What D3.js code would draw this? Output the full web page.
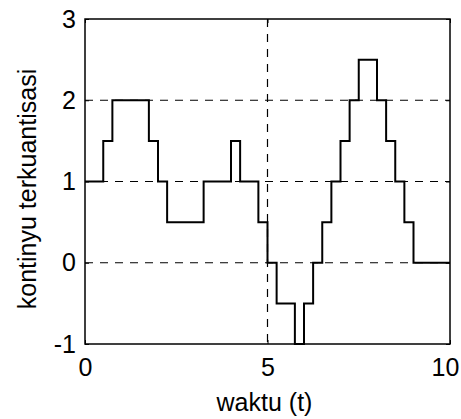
<!DOCTYPE html>
<html>
<head>
<meta charset="utf-8">
<script src="https://cdn.jsdelivr.net/npm/d3@7"></script>
<style>
  body { margin: 0; background: #fff; }
  svg { display: block; }
  text { font-family: 'Liberation Sans', Arial, sans-serif; fill: #000; }
</style>
</head>
<body>
<svg></svg>
<script>
// step data: time where a level starts, and the quantised level
const stepTimes = [0, 0.5, 0.75, 1.75, 2, 2.25, 3.25, 4, 4.25, 4.75, 5, 5.25, 5.75, 6, 6.25, 6.5, 6.75, 7, 7.25, 7.5, 8, 8.25, 8.5, 8.75, 9, 10]
const stepLevels = [1, 1.5, 2, 1.5, 1, 0.5, 1, 1.5, 1, 0.5, 0, -0.5, -1, -0.5, 0, 0.5, 1, 1.5, 2, 2.5, 2, 1.5, 1, 0.5, 0, 0]

const xTicks = [0, 5, 10]
const yTicks = [-1, 0, 1, 2, 3]
const xLabel = 'waktu (t)'
const yLabel = 'kontinyu terkuantisasi'

// canvas and plot box edges
const width = 461
const height = 419
const boxLeft = 85
const boxRight = 450
const boxTop = 19
const boxBottom = 344
const fontSize = 25

const svg = d3.select('svg')
  .attr('width', width)
  .attr('height', height)

const xScale = d3.scaleLinear().domain([0, 10]).range([boxLeft, boxRight])
const yScale = d3.scaleLinear().domain([-1, 3]).range([boxBottom, boxTop])

// dashed grid lines
svg.append('g')
  .selectAll('line')
  .data(xTicks.slice(1, -1))
  .enter()
  .append('line')
  .attr('x1', d => xScale(d))
  .attr('x2', d => xScale(d))
  .attr('y1', boxTop)
  .attr('y2', boxBottom)
  .attr('stroke', '#000')
  .attr('stroke-width', 1.2)
  .attr('stroke-dasharray', '8,7')

svg.append('g')
  .selectAll('line')
  .data(yTicks.slice(1, -1))
  .enter()
  .append('line')
  .attr('x1', boxLeft)
  .attr('x2', boxRight)
  .attr('y1', d => yScale(d))
  .attr('y2', d => yScale(d))
  .attr('stroke', '#000')
  .attr('stroke-width', 1.2)
  .attr('stroke-dasharray', '8,7')

// the staircase
const pts = stepTimes.map((t, i) => [t, stepLevels[i]])
const line = d3.line()
  .x(d => xScale(d[0]))
  .y(d => yScale(d[1]))
  .curve(d3.curveStepAfter)

svg.append('path')
  .datum(pts)
  .attr('d', line)
  .attr('fill', 'none')
  .attr('stroke', '#000')
  .attr('stroke-width', 2)

// axes, ticks pointing inward; plain hyphen for negatives like the original
const fmt = d => String(d)
const xAxis = d3.axisBottom(xScale).tickValues(xTicks).tickFormat(fmt).tickSize(-4).tickPadding(14)
const yAxis = d3.axisLeft(yScale).tickValues(yTicks).tickFormat(fmt).tickSize(-4).tickPadding(9)

const gx = svg.append('g')
  .attr('transform', 'translate(0,' + boxBottom + ')')
  .call(xAxis)
svg.append('g')
  .attr('transform', 'translate(' + boxLeft + ',0)')
  .call(yAxis)
svg.append('g')
  .attr('transform', 'translate(0,' + boxTop + ')')
  .call(d3.axisTop(xScale).tickValues(xTicks).tickSize(-4).tickFormat(''))
svg.append('g')
  .attr('transform', 'translate(' + boxRight + ',0)')
  .call(d3.axisRight(yScale).tickValues(yTicks).tickSize(-4).tickFormat(''))

svg.selectAll('.domain').remove()
svg.selectAll('.tick line').attr('stroke', '#000')
svg.selectAll('.tick text')
  .style('font-size', fontSize + 'px')
  .attr('fill', '#000')

// keep the last x label inside the window
gx.selectAll('.tick text')
  .filter(d => d === xTicks[xTicks.length - 1])
  .attr('dx', -5)

// box
svg.append('rect')
  .attr('x', boxLeft)
  .attr('y', boxTop)
  .attr('width', boxRight - boxLeft)
  .attr('height', boxBottom - boxTop)
  .attr('fill', 'none')
  .attr('stroke', '#000')
  .attr('stroke-width', 1.5)

// labels
svg.append('text')
  .attr('x', (boxLeft + boxRight) / 2 - 3)
  .attr('y', 411)
  .attr('text-anchor', 'middle')
  .style('font-size', fontSize + 'px')
  .text(xLabel)

svg.append('text')
  .attr('transform', 'translate(36,189) rotate(-90)')
  .attr('text-anchor', 'middle')
  .style('font-size', fontSize + 'px')
  .text(yLabel)
</script>
</body>
</html>
